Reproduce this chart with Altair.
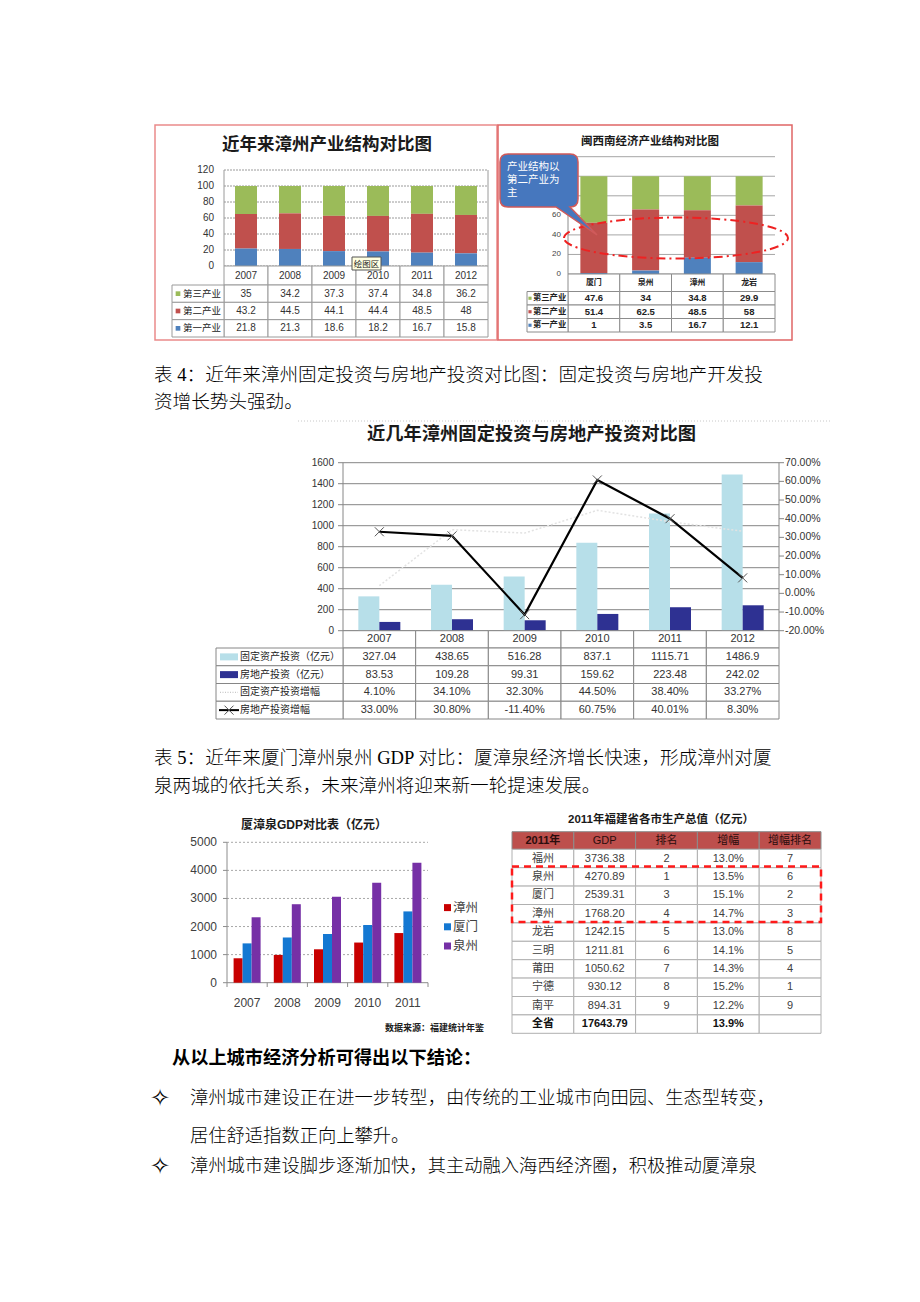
import altair as alt
import pandas as pd

# ---------------- data ----------------
years_a = ["2007", "2008", "2009", "2010", "2011", "2012"]
sectors = ["第三产业", "第二产业", "第一产业"]
zz_tertiary = [35, 34.2, 37.3, 37.4, 34.8, 36.2]
zz_secondary = [43.2, 44.5, 44.1, 44.4, 48.5, 48]
zz_primary = [21.8, 21.3, 18.6, 18.2, 16.7, 15.8]
share_ticks = [0, 20, 40, 60, 80, 100, 120]
share_ticks_visible_b = [0, 20, 40, 60]

cities_b = ["厦门", "泉州", "漳州", "龙岩"]
mn_tertiary = [47.6, 34, 34.8, 29.9]
mn_secondary = [51.4, 62.5, 48.5, 58]
mn_primary = [1, 3.5, 16.7, 12.1]
callout_lines = ["产业结构以", "第二产业为", "主"]

years_c = ["2007", "2008", "2009", "2010", "2011", "2012"]
inv_rows = ["固定资产投资（亿元）", "房地产投资（亿元）", "固定资产投资增幅", "房地产投资增幅"]
fixed_inv = [327.04, 438.65, 516.28, 837.1, 1115.71, 1486.9]
estate_inv = [83.53, 109.28, 99.31, 159.62, 223.48, 242.02]
fixed_growth = [4.10, 34.10, 32.30, 44.50, 38.40, 33.27]
estate_growth = [33.00, 30.80, -11.40, 60.75, 40.01, 8.30]
inv_ticks = [0, 200, 400, 600, 800, 1000, 1200, 1400, 1600]
growth_ticks = [-20, -10, 0, 10, 20, 30, 40, 50, 60, 70]

years_d = ["2007", "2008", "2009", "2010", "2011"]
gdp_cities = ["漳州", "厦门", "泉州"]
gdp_zhangzhou = [870, 990, 1190, 1430, 1768]
gdp_xiamen = [1400, 1610, 1735, 2055, 2539]
gdp_quanzhou = [2330, 2795, 3065, 3563, 4271]
gdp_ticks = [0, 1000, 2000, 3000, 4000, 5000]

fj_header = ["2011年", "GDP", "排名", "增幅", "增幅排名"]
fj_city = ["福州", "泉州", "厦门", "漳州", "龙岩", "三明", "莆田", "宁德", "南平", "全省"]
fj_gdp = ["3736.38", "4270.89", "2539.31", "1768.20", "1242.15", "1211.81", "1050.62", "930.12", "894.31", "17643.79"]
fj_rank = ["2", "1", "3", "4", "5", "6", "7", "8", "9", ""]
fj_growth = ["13.0%", "13.5%", "15.1%", "14.7%", "13.0%", "14.1%", "14.3%", "15.2%", "12.2%", "13.9%"]
fj_growth_rank = ["7", "6", "2", "3", "8", "5", "4", "1", "9", ""]

para_4 = ["表 4：近年来漳州固定投资与房地产投资对比图：固定投资与房地产开发投", "资增长势头强劲。"]
para_5 = ["表 5：近年来厦门漳州泉州 GDP 对比：厦漳泉经济增长快速，形成漳州对厦",
          "泉两城的依托关系，未来漳州将迎来新一轮提速发展。"]
concl_head = "从以上城市经济分析可得出以下结论："
concl_1 = ["漳州城市建设正在进一步转型，由传统的工业城市向田园、生态型转变，", "居住舒适指数正向上攀升。"]
concl_2 = "漳州城市建设脚步逐渐加快，其主动融入海西经济圈，积极推动厦漳泉"

# ---------------- helpers ----------------
OX, OY = 8, 8


def X(v):
    return round(v - OX, 2)


def Y(v):
    return round(v - OY, 2)


CJK = "Noto Sans CJK SC"
NUM = "Liberation Sans, Noto Sans CJK SC"
SERIF = "Liberation Serif, Noto Sans CJK SC"
ONE = pd.DataFrame({"k": [0]})

C_GREEN, C_RED, C_BLUE = "#9BBB59", "#C0504D", "#4F81BD"


def band(domain, a, b, inner=0.0, outer=0.0, vertical=False):
    rng = [Y(a), Y(b)] if vertical else [X(a), X(b)]
    return alt.Scale(type="band", domain=list(domain), range=rng, paddingInner=inner, paddingOuter=outer)


def lin(d0, d1, p0, p1):
    return alt.Scale(type="linear", domain=[d0, d1], range=[Y(p0), Y(p1)], nice=False, zero=False)


def text_at(s, x, y, size, weight="normal", color="#000000", align="left", font=CJK):
    return alt.Chart(pd.DataFrame({"t": [s]})).mark_text(
        align=align, baseline="middle", fontSize=size, fontWeight=weight, color=color, font=font
    ).encode(x=alt.value(X(x)), y=alt.value(Y(y)), text="t:N")


def rect_at(x0, y0, x1, y1, fill="transparent", stroke="transparent", sw=1.0, dash=None, radius=0):
    kw = dict(fill=fill, stroke=stroke, strokeWidth=sw)
    if dash:
        kw["strokeDash"] = dash
    if radius:
        kw["cornerRadius"] = radius
    return alt.Chart(ONE).mark_rect(**kw).encode(
        x=alt.value(X(x0)), x2=alt.value(X(x1)), y=alt.value(Y(y0)), y2=alt.value(Y(y1)))


def line_at(x0, y0, x1, y1, color, sw=1.0, dash=None):
    kw = dict(color=color, strokeWidth=sw)
    if dash:
        kw["strokeDash"] = dash
    return alt.Chart(ONE).mark_rule(**kw).encode(
        x=alt.value(X(x0)), x2=alt.value(X(x1)), y=alt.value(Y(y0)), y2=alt.value(Y(y1)))


def shape_at(path, x, y, fill=None, stroke=None, sw=1.0, dash=None):
    kw = dict(shape=path, size=4, opacity=1)
    if fill:
        kw["filled"] = True
        kw["fill"] = fill
    else:
        kw["filled"] = False
        kw["fill"] = "transparent"
    if stroke:
        kw["stroke"] = stroke
        kw["strokeWidth"] = sw
    else:
        kw["strokeWidth"] = 0
    if dash:
        kw["strokeDash"] = dash
    return alt.Chart(ONE).mark_point(**kw).encode(x=alt.value(X(x)), y=alt.value(Y(y)))


def cells(cols, rows, x0, x1, y0, y1, stroke, fill="#ffffff", sw=1.0):
    df = pd.DataFrame([{"c": c, "r": r} for r in rows for c in cols])
    return alt.Chart(df).mark_rect(fill=fill, stroke=stroke, strokeWidth=sw).encode(
        x=alt.X("c:N", scale=band(cols, x0, x1), axis=None),
        y=alt.Y("r:N", scale=band(rows, y0, y1, vertical=True), axis=None))


def col_cells(rows, x0, x1, y0, y1, stroke, fill="#ffffff", sw=1.0):
    df = pd.DataFrame({"r": rows})
    return alt.Chart(df).mark_rect(fill=fill, stroke=stroke, strokeWidth=sw).encode(
        x=alt.value(X(x0)), x2=alt.value(X(x1)),
        y=alt.Y("r:N", scale=band(rows, y0, y1, vertical=True), axis=None))


def cell_text(records, cols, rows, x0, x1, y0, y1, size, color, weight="normal", font=NUM):
    df = pd.DataFrame(records)
    return alt.Chart(df).mark_text(
        fontSize=size, color=color, fontWeight=weight, font=font, baseline="middle", align="center"
    ).encode(
        x=alt.X("c:N", scale=band(cols, x0, x1), axis=None),
        y=alt.Y("r:N", scale=band(rows, y0, y1, vertical=True), axis=None),
        text="t:N")


def row_labels(rows, x, y0, y1, size, color, weight="normal", font=CJK):
    df = pd.DataFrame({"r": rows})
    return alt.Chart(df).mark_text(
        align="left", baseline="middle", fontSize=size, color=color, fontWeight=weight, font=font
    ).encode(x=alt.value(X(x)), y=alt.Y("r:N", scale=band(rows, y0, y1, vertical=True), axis=None),
             text="r:N")


def row_keys(rows, colors, x, y0, y1, size):
    df = pd.DataFrame({"r": rows})
    return alt.Chart(df).mark_point(shape="square", filled=True, size=size, opacity=1).encode(
        x=alt.value(X(x)),
        y=alt.Y("r:N", scale=band(rows, y0, y1, vertical=True), axis=None),
        color=alt.Color("r:N", scale=alt.Scale(domain=rows, range=colors), legend=None))


def hgrid(ticks, scale, x0, x1, color, dash=None, sw=1.0):
    kw = dict(color=color, strokeWidth=sw)
    if dash:
        kw["strokeDash"] = dash
    return alt.Chart(pd.DataFrame({"v": ticks})).mark_rule(**kw).encode(
        y=alt.Y("v:Q", scale=scale, axis=None), x=alt.value(X(x0)), x2=alt.value(X(x1)))


def ylabels(ticks, labels, scale, x, size, color, align="right"):
    df = pd.DataFrame({"v": ticks, "s": labels})
    return alt.Chart(df).mark_text(align=align, baseline="middle", fontSize=size, color=color, font=NUM).encode(
        y=alt.Y("v:Q", scale=scale, axis=None), x=alt.value(X(x)), text="s:N")


L = []

# ======================= chart 1: 近年来漳州产业结构对比图 =======================
G1 = "#9a9a9a"
s1y = lin(0, 120, 266, 170)
L.append(rect_at(155, 125, 497, 340, stroke="#ea8a8a", sw=1.5))
L.append(text_at("近年来漳州产业结构对比图", 327, 145, 17.5, "bold", "#1a1a1a", "center"))
L.append(hgrid(share_ticks, s1y, 224, 488, G1, dash=[2, 1]))
L.append(line_at(224, 170, 224, 266, G1))
L.append(line_at(488, 170, 488, 266, G1))
df1 = pd.DataFrame({
    "year": years_a * 3,
    "sector": [s for s in sectors for _ in years_a],
    "value": zz_tertiary + zz_secondary + zz_primary,
})
df1["ord"] = df1["sector"].map({"第一产业": 0, "第二产业": 1, "第三产业": 2})
L.append(alt.Chart(df1).mark_bar().encode(
    x=alt.X("year:N", scale=band(years_a, 224, 488, 0.5, 0.25), axis=None),
    y=alt.Y("value:Q", stack="zero", scale=s1y, axis=None),
    color=alt.Color("sector:N", scale=alt.Scale(domain=sectors, range=[C_GREEN, C_RED, C_BLUE]), legend=None),
    order=alt.Order("ord:Q")))
L.append(ylabels(share_ticks, [str(v) for v in share_ticks], s1y, 214, 10, "#333333"))
L.append(cells(years_a, ["h"], 224, 488, 266, 285, G1))
L.append(cells(years_a, sectors, 224, 488, 285, 337, G1))
L.append(col_cells(sectors, 172, 224, 285, 337, G1))
L.append(cell_text([{"c": y, "r": "h", "t": y} for y in years_a], years_a, ["h"], 224, 488, 266, 285, 10, "#333333"))
vals1 = {"第三产业": zz_tertiary, "第二产业": zz_secondary, "第一产业": zz_primary}
L.append(cell_text([{"c": y, "r": s, "t": f"{v:g}"} for s in sectors for y, v in zip(years_a, vals1[s])],
                   years_a, sectors, 224, 488, 285, 337, 10, "#333333"))
L.append(row_keys(sectors, [C_GREEN, C_RED, C_BLUE], 178, 285, 337, 22))
L.append(row_labels(sectors, 183, 285, 337, 9.5, "#222222"))
L.append(rect_at(352, 257, 381, 270, fill="#ffffe1", stroke="#555555"))
L.append(text_at("绘图区", 366.5, 263.5, 8.5, "normal", "#222222", "center"))

# ======================= chart 2: 闽西南经济产业结构对比图 =======================
G2 = "#a6a6a6"
s2y = lin(0, 120, 274, 156.7)
L.append(rect_at(498, 125, 792, 340, stroke="#e06666", sw=1.5))
L.append(text_at("闽西南经济产业结构对比图", 650, 142, 11.5, "bold", "#1a1a1a", "center"))
L.append(hgrid(share_ticks, s2y, 568, 775, G2))
L.append(line_at(568, 156.7, 568, 274, "#8c8c8c"))
df2 = pd.DataFrame({
    "city": cities_b * 3,
    "sector": [s for s in sectors for _ in cities_b],
    "value": mn_tertiary + mn_secondary + mn_primary,
})
df2["ord"] = df2["sector"].map({"第一产业": 0, "第二产业": 1, "第三产业": 2})
L.append(alt.Chart(df2).mark_bar().encode(
    x=alt.X("city:N", scale=band(cities_b, 568, 775, 0.478, 0.239), axis=None),
    y=alt.Y("value:Q", stack="zero", scale=s2y, axis=None),
    color=alt.Color("sector:N", scale=alt.Scale(domain=sectors, range=[C_GREEN, C_RED, C_BLUE]), legend=None),
    order=alt.Order("ord:Q")))
# the upper tick labels are hidden behind the callout in the reference
L.append(ylabels(share_ticks_visible_b, [str(v) for v in share_ticks_visible_b], s2y, 561, 8, "#444444"))
L.append(cells(cities_b, ["h"], 568, 775, 274, 291.5, "#8c8c8c"))
L.append(cells(cities_b, sectors, 568, 775, 291.5, 332, "#8c8c8c"))
L.append(col_cells(sectors, 527, 568, 291.5, 332, "#8c8c8c"))
L.append(cell_text([{"c": c, "r": "h", "t": c} for c in cities_b], cities_b, ["h"], 568, 775, 274, 291.5,
                   8, "#222222", "bold", CJK))
vals2 = {"第三产业": mn_tertiary, "第二产业": mn_secondary, "第一产业": mn_primary}
L.append(cell_text([{"c": c, "r": s, "t": f"{v:g}"} for s in sectors for c, v in zip(cities_b, vals2[s])],
                   cities_b, sectors, 568, 775, 291.5, 332, 9.5, "#222222", "bold"))
L.append(row_keys(sectors, [C_GREEN, C_RED, C_BLUE], 530, 291.5, 332, 10))
L.append(row_labels(sectors, 533, 291.5, 332, 8.3, "#222222", "bold"))
# dash-dot ellipse annotation
ELLIPSE = ("M-112,0 C-112,-11.3 -61.9,-20.5 0,-20.5 C61.9,-20.5 112,-11.3 112,0 "
           "C112,11.3 61.9,20.5 0,20.5 C-61.9,20.5 -112,11.3 -112,0 Z")
L.append(shape_at(ELLIPSE, 676, 238, stroke="#ee2222", sw=2, dash=[9, 4, 2, 4]))
# callout
CALLOUT = ("M8,0 L70,0 Q78,0 78,8 L78,45 Q78,53 70,53 L97,81 L56,53 L8,53 "
           "Q0,53 0,45 L0,8 Q0,0 8,0 Z")
L.append(shape_at(CALLOUT, 500, 154, fill="#4677be", stroke="#d05a5a", sw=1.5))
L.append(alt.Chart(pd.DataFrame({"t": callout_lines})).mark_text(
    align="left", baseline="middle", fontSize=10.5, color="#ffffff", font=CJK
).encode(x=alt.value(X(507)),
         y=alt.Y("t:N", scale=band(callout_lines, 160.5, 199.5, vertical=True), axis=None),
         text="t:N"))

# ======================= paragraph 表4 =======================
L.append(text_at(para_4[0], 154, 375, 18.6, 300, "#000000", "left", SERIF))
L.append(text_at(para_4[1], 154, 402, 18.6, 300, "#000000", "left", SERIF))

# ======================= chart 3: 近几年漳州固定投资与房地产投资对比图 =======================
G3 = "#868686"
s3y = lin(0, 1600, 630.7, 462.7)
s3r = lin(-20, 70, 630.7, 462.7)
x3 = band(years_c, 343, 779, 0.422, 0.211)
L.append(line_at(298, 421, 830, 421, "#c8c8c8", dash=[1, 2]))
L.append(text_at("近几年漳州固定投资与房地产投资对比图", 531.5, 435, 18.3, "bold", "#1a1a1a", "center"))
L.append(hgrid(inv_ticks, s3y, 343, 779, G3))
L.append(hgrid(inv_ticks, s3y, 338, 343, G3))
L.append(hgrid(growth_ticks, s3r, 779, 784, G3))
L.append(line_at(343, 462.7, 343, 630.7, G3))
L.append(line_at(779, 462.7, 779, 630.7, G3))
df3 = pd.DataFrame({
    "year": years_c * 2,
    "series": [inv_rows[0]] * len(years_c) + [inv_rows[1]] * len(years_c),
    "value": fixed_inv + estate_inv,
})
L.append(alt.Chart(df3).mark_bar().encode(
    x=alt.X("year:N", scale=x3, axis=None),
    xOffset=alt.XOffset("series:N", scale=alt.Scale(domain=inv_rows[:2])),
    y=alt.Y("value:Q", scale=s3y, axis=None),
    color=alt.Color("series:N", scale=alt.Scale(domain=inv_rows[:2], range=["#b7dfe9", "#2e3192"]), legend=None)))
df3l = pd.DataFrame({"year": years_c, "fg": fixed_growth, "eg": estate_growth})
L.append(alt.Chart(df3l).mark_line(color="#e2e2e2", strokeWidth=1.5, strokeDash=[2, 2]).encode(
    x=alt.X("year:N", scale=x3, axis=None), y=alt.Y("fg:Q", scale=s3r, axis=None)))
L.append(alt.Chart(df3l).mark_line(color="#000000", strokeWidth=2.2).encode(
    x=alt.X("year:N", scale=x3, axis=None), y=alt.Y("eg:Q", scale=s3r, axis=None)))
XMARK = "M-4.5,-4.5 L4.5,4.5 M-4.5,4.5 L4.5,-4.5"
L.append(alt.Chart(df3l).mark_point(shape=XMARK, size=4, filled=False, stroke="#555555",
                                    strokeWidth=1, opacity=1).encode(
    x=alt.X("year:N", scale=x3, axis=None), y=alt.Y("eg:Q", scale=s3r, axis=None)))
L.append(ylabels(inv_ticks, [str(v) for v in inv_ticks], s3y, 334, 10, "#333333"))
L.append(ylabels(growth_ticks, [f"{v:.2f}%" for v in growth_ticks], s3r, 785, 10.5, "#333333", "left"))
# table
L.append(cells(years_c, ["h"], 343, 779, 630.7, 648, G3))
L.append(cells(years_c, inv_rows, 343, 779, 648, 719, G3))
L.append(col_cells(inv_rows, 216, 343, 648, 719, G3))
L.append(cell_text([{"c": y, "r": "h", "t": y} for y in years_c], years_c, ["h"], 343, 779, 630.7, 648,
                   11, "#333333"))
rows3 = {
    inv_rows[0]: [f"{v:g}" for v in fixed_inv],
    inv_rows[1]: [f"{v:g}" for v in estate_inv],
    inv_rows[2]: [f"{v:.2f}%" for v in fixed_growth],
    inv_rows[3]: [f"{v:.2f}%" for v in estate_growth],
}
L.append(cell_text([{"c": y, "r": r, "t": t} for r in inv_rows for y, t in zip(years_c, rows3[r])],
                   years_c, inv_rows, 343, 779, 648, 719, 11, "#333333"))
L.append(row_labels(inv_rows, 240, 648, 719, 10, "#222222"))
# legend keys inside the table's first column
L.append(alt.Chart(pd.DataFrame({"r": [inv_rows[0]]})).mark_point(
    shape="M-9,-3.5 L9,-3.5 L9,3.5 L-9,3.5 Z", size=4, filled=True, fill="#b7dfe9", strokeWidth=0, opacity=1
).encode(x=alt.value(X(229)), y=alt.Y("r:N", scale=band(inv_rows, 648, 719, vertical=True), axis=None)))
L.append(alt.Chart(pd.DataFrame({"r": [inv_rows[1]]})).mark_point(
    shape="M-9,-3.5 L9,-3.5 L9,3.5 L-9,3.5 Z", size=4, filled=True, fill="#2e3192", strokeWidth=0, opacity=1
).encode(x=alt.value(X(229)), y=alt.Y("r:N", scale=band(inv_rows, 648, 719, vertical=True), axis=None)))
L.append(alt.Chart(pd.DataFrame({"r": [inv_rows[2]]})).mark_point(
    shape="M-9,0 L9,0", size=4, filled=False, stroke="#c8c8c8", strokeWidth=1.2, strokeDash=[1, 1.5], opacity=1
).encode(x=alt.value(X(229)), y=alt.Y("r:N", scale=band(inv_rows, 648, 719, vertical=True), axis=None)))
L.append(alt.Chart(pd.DataFrame({"r": [inv_rows[3]]})).mark_point(
    shape="M-10,0 L10,0", size=4, filled=False, stroke="#000000", strokeWidth=2, opacity=1
).encode(x=alt.value(X(229)), y=alt.Y("r:N", scale=band(inv_rows, 648, 719, vertical=True), axis=None)))
L.append(alt.Chart(pd.DataFrame({"r": [inv_rows[3]]})).mark_point(
    shape=XMARK, size=4, filled=False, stroke="#555555", strokeWidth=1, opacity=1
).encode(x=alt.value(X(229)), y=alt.Y("r:N", scale=band(inv_rows, 648, 719, vertical=True), axis=None)))

# ======================= paragraph 表5 =======================
L.append(text_at(para_5[0], 154, 758, 18.6, 300, "#000000", "left", SERIF))
L.append(text_at(para_5[1], 154, 786, 18.6, 300, "#000000", "left", SERIF))

# ======================= chart 4: 厦漳泉GDP对比表 =======================
s4y = lin(0, 5000, 982.7, 842.3)
x4 = band(years_d, 227, 428, 0.328, 0.164)
L.append(text_at("厦漳泉GDP对比表（亿元）", 314, 825, 12, "bold", "#1a1a1a", "center", NUM))
L.append(hgrid(gdp_ticks[1:], s4y, 227, 428, "#a8a8a8", dash=[2, 2]))
L.append(hgrid(gdp_ticks, s4y, 223, 227, "#8c8c8c"))
L.append(line_at(227, 842.3, 227, 982.7, "#8c8c8c"))
L.append(line_at(227, 982.7, 428, 982.7, "#8c8c8c"))
L.append(alt.Chart(pd.DataFrame({"c": years_d})).mark_rule(color="#8c8c8c").encode(
    x=alt.X("c:N", scale=band(years_d, 227, 428), axis=None, bandPosition=0),
    y=alt.value(Y(982.7)), y2=alt.value(Y(987))))
L.append(line_at(428, 982.7, 428, 987, "#8c8c8c"))
df4 = pd.DataFrame({
    "year": years_d * 3,
    "city": [c for c in gdp_cities for _ in years_d],
    "value": gdp_zhangzhou + gdp_xiamen + gdp_quanzhou,
})
GDP_COLORS = ["#c80000", "#1478d2", "#7630a6"]
L.append(alt.Chart(df4).mark_bar().encode(
    x=alt.X("year:N", scale=x4, axis=None),
    xOffset=alt.XOffset("city:N", scale=alt.Scale(domain=gdp_cities)),
    y=alt.Y("value:Q", scale=s4y, axis=None),
    color=alt.Color("city:N", scale=alt.Scale(domain=gdp_cities, range=GDP_COLORS), legend=None)))
L.append(ylabels(gdp_ticks, [str(v) for v in gdp_ticks], s4y, 217, 12, "#404040"))
L.append(alt.Chart(pd.DataFrame({"c": years_d})).mark_text(fontSize=12, color="#404040", font=NUM).encode(
    x=alt.X("c:N", scale=x4, axis=None), y=alt.value(Y(1003)), text="c:N"))
L.append(row_keys(gdp_cities, GDP_COLORS, 447.5, 898, 955.6, 49))
L.append(row_labels(gdp_cities, 453, 898, 955.6, 12.5, "#404040"))
L.append(text_at("数据来源：福建统计年鉴", 385, 1028, 9, "bold", "#222222"))

# ======================= table: 2011年福建省各市生产总值 =======================
L.append(text_at("2011年福建省各市生产总值（亿元）", 661, 820, 11.5, "bold", "#1a1a1a", "center", NUM))
L.append(cells(fj_header, ["h"], 512, 821, 831.7, 849.3, "#8c8c8c", fill="#bd4f4c"))
L.append(cells(fj_header, fj_city, 512, 821, 849.3, 1033.3, "#b0b0b0"))
L.append(cell_text([{"c": h, "r": "h", "t": h} for h in fj_header[1:]], fj_header, ["h"], 512, 821, 831.7, 849.3,
                   11, "#2b0d0d"))
L.append(cell_text([{"c": fj_header[0], "r": "h", "t": fj_header[0]}], fj_header, ["h"], 512, 821, 831.7, 849.3,
                   11, "#2b0d0d", "bold"))
fj_cols = [fj_city, fj_gdp, fj_rank, fj_growth, fj_growth_rank]
body_recs = []
bold_recs = []
for i, city in enumerate(fj_city):
    for h, col in zip(fj_header, fj_cols):
        rec = {"c": h, "r": city, "t": col[i]}
        (bold_recs if city == "全省" else body_recs).append(rec)
L.append(cell_text(body_recs, fj_header, fj_city, 512, 821, 849.3, 1033.3, 11, "#404040"))
L.append(cell_text(bold_recs, fj_header, fj_city, 512, 821, 849.3, 1033.3, 11, "#111111", "bold"))
L.append(rect_at(512, 866.5, 821, 922, stroke="#ff1a1a", sw=2.5, dash=[7, 5]))

# ======================= conclusions =======================
L.append(text_at(concl_head, 172, 1059, 18.2, "bold", "#000000", "left", SERIF))
L.append(text_at("✧", 160, 1099, 24, "normal", "#000000", "center", "DejaVu Sans"))
L.append(text_at(concl_1[0], 190, 1099, 18.3, 300, "#000000", "left", SERIF))
L.append(text_at(concl_1[1], 190, 1137, 18.3, 300, "#000000", "left", SERIF))
L.append(text_at("✧", 160, 1167, 24, "normal", "#000000", "center", "DejaVu Sans"))
L.append(text_at(concl_2, 190, 1167, 18.3, 300, "#000000", "left", SERIF))

chart = alt.layer(*L).resolve_scale(
    x="independent", y="independent", color="independent", xOffset="independent"
).properties(
    width=904, height=1286, padding=0,
    autosize=alt.AutoSizeParams(type="none"), background="#ffffff"
).configure_view(strokeWidth=0)

chart.save("out.html", embed_options={"renderer": "svg", "actions": False})
